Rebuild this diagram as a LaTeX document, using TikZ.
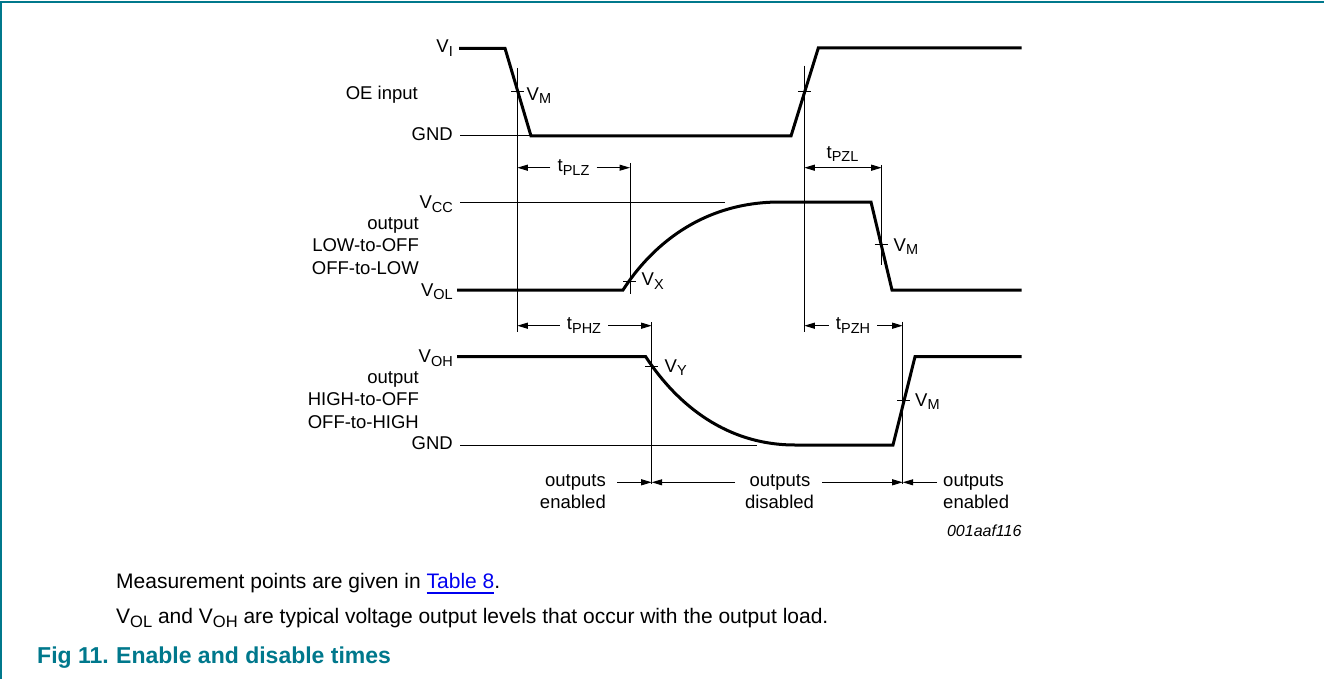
\documentclass[tikz,border=0pt]{standalone}
\usepackage{fontspec}
\setmainfont{Liberation Sans}
\usetikzlibrary{arrows.meta}
\definecolor{nxpteal}{RGB}{0,120,140}
\definecolor{linkblue}{RGB}{0,0,240}
\newcommand\sbd[1]{\raisebox{-3.5pt}{\fontsize{14.5}{14.5}\selectfont #1}}
\newcommand\sbt[1]{\raisebox{-4pt}{\fontsize{16.5}{16.5}\selectfont #1}}
\newcommand\ulblue[1]{\setbox0\hbox{#1}\rlap{\color{linkblue}\rule[-5.5pt]{\wd0}{1.8pt}}\textcolor{linkblue}{#1}}
\begin{document}
\begin{tikzpicture}[x=1pt,y=-1pt,
  wave/.style={line width=3pt, line join=miter},
  thinln/.style={line width=1pt},
  lbl/.style={inner sep=0pt, font=\fontsize{18.5}{22}\selectfont},
  tl/.style={lbl, inner xsep=7pt},
  tipr/.style={-{Triangle[length=10.5pt,width=6pt]}, line width=1pt},
  tipb/.style={{Triangle[length=10.5pt,width=6pt]}-{Triangle[length=10.5pt,width=6pt]}, line width=1pt},
  body/.style={inner sep=0pt, anchor=base west, font=\fontsize{21}{25}\selectfont}
]
\useasboundingbox (0,0) rectangle (1324,679);
% frame
\draw[nxpteal, line width=1.5pt] (0,2.2) -- (1324,2.2);
\draw[nxpteal, line width=1.2pt] (1,2.2) -- (1,679);

% ---- key coordinates ----
% vertical measurement lines
\coordinate (A1) at (517.3,68);   \coordinate (A2) at (517.3,332);
\coordinate (B1) at (630,163);    \coordinate (B2) at (630,294);
\coordinate (C1) at (651.7,322);  \coordinate (C2) at (651.7,484);
\coordinate (D1) at (804.3,65.7); \coordinate (D2) at (804.3,331.7);
\coordinate (E1) at (881.7,165);  \coordinate (E2) at (881.7,265);
\coordinate (F1) at (902.7,321.7);\coordinate (F2) at (902.7,484);

\foreach \a/\b in {A1/A2,B1/B2,C1/C2,D1/D2,E1/E2,F1/F2}
  \draw[thinln] (\a) -- (\b);

% reference (thin) level lines
\coordinate (g1s) at (460,136);   \coordinate (g1e) at (531,136);
\coordinate (vcs) at (460,202.3); \coordinate (vce) at (725,202.3);
\coordinate (g3s) at (460,445);   \coordinate (g3e) at (757,445);
\draw[thinln] (g1s) -- (g1e);
\draw[thinln] (vcs) -- (vce);
\draw[thinln] (g3s) -- (g3e);

% ---- waveforms ----
\coordinate (w1a) at (459,48.3);
\coordinate (w1b) at (505,48.3);
\coordinate (w1c) at (531,136);
\coordinate (w1d) at (791,136);
\coordinate (w1e) at (818.3,48);
\coordinate (w1f) at (1021.7,48);
\draw[wave] (w1a) -- (w1b) -- (w1c) -- (w1d) -- (w1e) -- (w1f);

\coordinate (w2a) at (457,290);
\coordinate (w2b) at (623,290);
\coordinate (w2c) at (780,202);
\coordinate (w2d) at (871,202);
\coordinate (w2e) at (892,290);
\coordinate (w2f) at (1021.7,290);
\draw[wave] (w2a) -- (w2b) .. controls (650,248) and (700,202) .. (w2c)
  -- (w2d) -- (w2e) -- (w2f);

\coordinate (w3a) at (457,356.7);
\coordinate (w3b) at (645.7,356.7);
\coordinate (w3c) at (795,445);
\coordinate (w3d) at (893,445);
\coordinate (w3e) at (915,356.7);
\coordinate (w3f) at (1021.7,356.7);
\draw[wave] (w3a) -- (w3b) .. controls (672,397) and (720,445) .. (w3c)
  -- (w3d) -- (w3e) -- (w3f);

% ---- ticks ----
\foreach \x/\y in {517.5/91.7, 804.3/91.7, 629.5/281, 881/244.3, 651.5/366, 903.7/400}
  \draw[thinln] (\x-6.5,\y) -- (\x+6.5,\y);

% ---- level labels (left) ----
\node[lbl, anchor=east] (lvi) at (453,48.3) {V\sbd{I}};
\node[lbl, anchor=base east] (loe) at (418,100) {OE input};
\node[lbl, anchor=base east] (lg1) at (453,140.7) {GND};
\node[lbl, anchor=east] (lvcc) at (453,204) {V\sbd{CC}};
\node[lbl, anchor=base east] (lo1) at (419,229.5) {output};
\node[lbl, anchor=base east] (lo2) at (419,251.8) {LOW-to-OFF};
\node[lbl, anchor=base east] (lo3) at (419,274) {OFF-to-LOW};
\node[lbl, anchor=east] (lvol) at (453,291.5) {V\sbd{OL}};
\node[lbl, anchor=east] (lvoh) at (453,358) {V\sbd{OH}};
\node[lbl, anchor=base east] (lp1) at (419,383.5) {output};
\node[lbl, anchor=base east] (lp2) at (419,405.5) {HIGH-to-OFF};
\node[lbl, anchor=base east] (lp3) at (419,428.3) {OFF-to-HIGH};
\node[lbl, anchor=base east] (lg3) at (453,449.3) {GND};

% ---- threshold labels ----
\node[lbl, anchor=west] (vm1) at (526.5,95.5) {V\sbd{M}};
\node[lbl, anchor=west] (vx) at (641.5,281) {V\sbd{X}};
\node[lbl, anchor=west] (vm2) at (893.5,246.5) {V\sbd{M}};
\node[lbl, anchor=west] (vy) at (664.5,367.5) {V\sbd{Y}};
\node[lbl, anchor=west] (vm3) at (915,401.5) {V\sbd{M}};

% ---- timing arrows ----
\node[tl] (tplz) at (573.5,167.7) {t\sbd{PLZ}};
\draw[tipr] (tplz.west) -- (tplz.west -| A1);
\draw[tipr] (tplz.east) -- (tplz.east -| B1);

\node[tl] (tphz) at (584,325.7) {t\sbd{PHZ}};
\draw[tipr] (tphz.west) -- (tphz.west -| A1);
\draw[tipr] (tphz.east) -- (tphz.east -| C1);

\coordinate (pzlL) at (804.3,167.7);
\coordinate (pzlR) at (881.7,167.7);
\draw[tipb] (pzlL) -- (pzlR);
\node[lbl] (tpzl) at (842.5,154) {t\sbd{PZL}};

\node[tl] (tpzh) at (853,325.7) {t\sbd{PZH}};
\draw[tipr] (tpzh.west) -- (tpzh.west -| D1);
\draw[tipr] (tpzh.east) -- (tpzh.east -| F1);

% ---- output state arrows ----
\node[lbl, anchor=base east] (oe1a) at (606,486) {outputs};
\node[lbl, anchor=base east] (oe1b) at (606,508.5) {enabled};
\coordinate (oe1s) at (617,482.3);
\draw[tipr] (oe1s) -- (oe1s -| C1);

\node[lbl, anchor=base] (oda) at (780,486) {outputs};
\node[lbl, anchor=base] (odb) at (779.5,508.5) {disabled};
\coordinate (odl) at (735,482.3);
\coordinate (odr) at (822,482.3);
\draw[tipr] (odl) -- (odl -| C1);
\draw[tipr] (odr) -- (odr -| F1);

\node[lbl, anchor=base west] (oe2a) at (943,486) {outputs};
\node[lbl, anchor=base west] (oe2b) at (943,508.5) {enabled};
\coordinate (oe2s) at (937,482.3);
\draw[tipr] (oe2s) -- (oe2s -| F1);

\node[inner sep=0pt, anchor=base east, font=\fontsize{16}{18}\selectfont\itshape] (fid) at (1021.7,536) {001aaf116};

% ---- notes and caption ----
\node[body] (n1) at (116,588.3) {Measurement points are given in \ulblue{Table 8}.};
\node[body] (n2) at (116,623.3) {V\sbt{OL} and V\sbt{OH} are typical voltage output levels that occur with the output load.};
\node[body, font=\fontsize{23}{27}\selectfont\bfseries, text=nxpteal] (cap1) at (37,663.3) {Fig 11.};
\node[body, font=\fontsize{23}{27}\selectfont\bfseries, text=nxpteal] (cap2) at (116,663.3) {Enable and disable times};
\end{tikzpicture}
\end{document}
